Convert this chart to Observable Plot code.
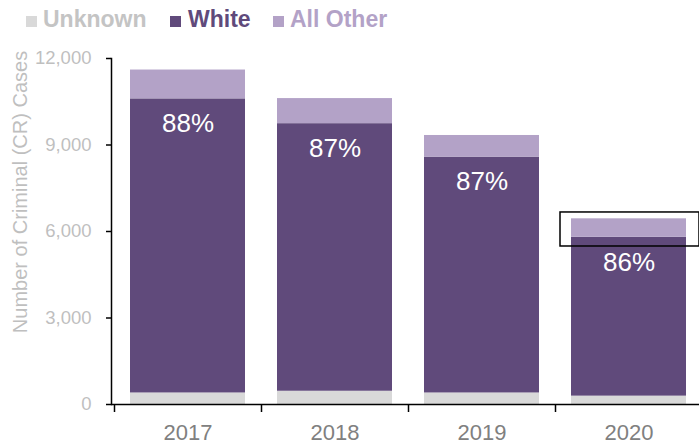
<!DOCTYPE html>
<html><head><meta charset="utf-8">
<script src="https://cdn.jsdelivr.net/npm/d3@7"></script>
<script src="https://cdn.jsdelivr.net/npm/@observablehq/plot@0.6"></script>
<style>
body{margin:0;background:#fff;font-family:"Liberation Sans",Arial,sans-serif;}
#legend{position:relative;height:38px;width:699px;}
.sw{position:absolute;top:16px;width:11px;height:11px;}
.lb{position:absolute;top:8px;font-weight:bold;font-size:23px;line-height:22px;white-space:nowrap;}
</style></head><body>
<div id="legend"></div>
<div id="chart"></div>
<script>
const years = ["2017","2018","2019","2020"];
const series = ["Unknown","White","All Other"];
const unknown = [400,460,400,290];
const white = [10200,9280,8180,5510];
const allOther = [1000,870,750,640];
const pctLabels = ["88%","87%","87%","86%"];
const yTicks = [0,3000,6000,9000,12000];
const colors = ["#d9d9d9","#604a7b","#b3a2c7"];
const legendTextColors = ["#c4c4c4","#604a7b","#b3a2c7"];
const yLabel = "Number of Criminal (CR) Cases";
const highlight = [{year:"2020", low:5480, high:6660}];

// legend
const legendPos = [[26,43],[170,188],[273,290]];
const lg = document.getElementById("legend");
series.forEach((s,i)=>{
  const sw = document.createElement("div");
  sw.className="sw"; sw.style.left=legendPos[i][0]+"px"; sw.style.background=colors[i];
  const lb = document.createElement("div");
  lb.className="lb"; lb.style.left=legendPos[i][1]+"px"; lb.style.color=legendTextColors[i];
  lb.textContent=s;
  lg.appendChild(sw); lg.appendChild(lb);
});

const long = years.flatMap((y,i)=>[
  {year:y, series:"Unknown", value:unknown[i]},
  {year:y, series:"White", value:white[i]},
  {year:y, series:"All Other", value:allOther[i]}
]);

const W = 699, ML = 111;
const pIn = 0.22, pOut = 0.11;
const step = (W-ML)/(years.length - pIn + 2*pOut);

const chart = Plot.plot({
  width: W, height: 407,
  marginLeft: ML, marginRight: 0, marginTop: 20, marginBottom: 41,
  style: {fontFamily:"Liberation Sans, Arial, sans-serif", background:"#fff"},
  x: {domain: years, paddingInner: pIn, paddingOuter: pOut, align: 0.59, axis: null, label: null},
  y: {domain: [0,12000], axis: null, label: null},
  color: {domain: series, range: colors},
  marks: [
    Plot.barY(long, {x:"year", y:"value", fill:"series"}),
    Plot.text(years, {x: d=>d, y: (d,i)=>unknown[i]+white[i], text: (d,i)=>pctLabels[i],
      fill:"white", fontSize:26, dy:25}),
    Plot.barY(highlight, {x:"year", y1:"low", y2:"high", fill:"none", stroke:"black",
      strokeWidth:1.5, insetLeft:-11, insetRight:-13}),
    Plot.axisY({ticks: yTicks, tickSize:5, text:null, label:null, stroke:"black", strokeWidth:1.5, strokeOpacity:1}),
    Plot.axisY({ticks: yTicks, tickSize:0, tickPadding:20, tickFormat: d3.format(","), label:null,
      fill:"#bfbfbf", fontSize:18.5}),
    Plot.frame({anchor:"left", stroke:"black", strokeWidth:1.5}),
    Plot.ruleY([0], {stroke:"black", strokeWidth:1.5}),
    Plot.axisX({tickSize:8, text:null, label:null, stroke:"black", strokeWidth:1.5, strokeOpacity:1, dx:-step/2}),
    Plot.axisX({tickSize:0, tickPadding:20, fontSize:22, label:null, fill:"#808080"}),
    Plot.text([yLabel], {text: d=>d, frameAnchor:"left", textAnchor:"middle", rotate:-90, dx:-91, dy:-39.5,
      fontSize:20, fill:"#bfbfbf"})
  ]
});
document.getElementById("chart").appendChild(chart);
</script>
</body></html>
